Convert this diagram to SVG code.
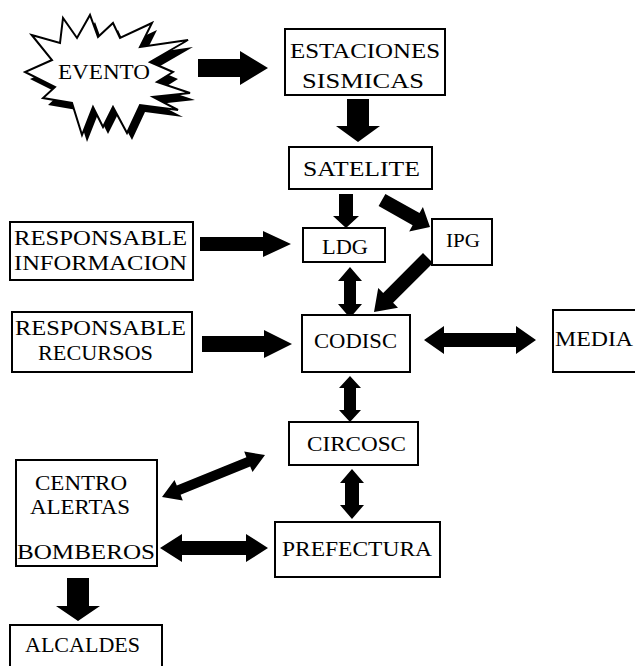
<svg xmlns="http://www.w3.org/2000/svg" width="635" height="666" viewBox="0 0 635 666">
<style>
.box{fill:#fff;stroke:#000;stroke-width:2}
.t{font-family:"Liberation Serif","Times New Roman",serif;font-size:22px;fill:#000}
.s{font-size:20px}
.arr{fill:#000;stroke:none}
</style>
<rect width="635" height="666" fill="#fff"/>
<defs>
<polygon id="star" points="31.7,35 60,43 63,18 77,38 90,15 98,37 113,23 120,38 152,23 140,47 188,40 150,62 173,72 157,82 190,93 153,97 178,110 140,105 127,133 113,107 103,127 93,107 82,135 72,103 43,98 55,87 25,72 52,60"/>
</defs>
<g id="connectors">
<polygon class="arr" points="198,59 240,59 240,51 268,68 240,85 240,77 198,77"/>
<polygon class="arr" points="347,99 369,99 369,126 380,126 358,142 336,126 347,126"/>
<polygon class="arr" points="339,194 353,194 353,216 359,216 346,228 333,216 339,216"/>
<polygon class="arr" points="378.6,206.1 412.6,225.3 409.2,231.4 430,227 422.9,207 419.5,213.1 385.4,193.9"/>
<polygon class="arr" points="200,237 263,237 263,231 291,244 263,257 263,251 200,251"/>
<polygon class="arr" points="423,253 383.2,292.9 378.2,288 374,312 398,307.8 393.1,302.8 433,263"/>
<polygon class="arr" points="350,267 362,281 356,281 356,304 362,304 350,318 338,304 344,304 344,281 338,281"/>
<polygon class="arr" points="202,336 264,336 264,330 292,344 264,358 264,352 202,352"/>
<polygon class="arr" points="424,340 444,326 444,333 516,333 516,326 536,340 516,354 516,347 444,347 444,354"/>
<polygon class="arr" points="350,376 361,388 356,388 356,410 361,410 350,422 339,410 344,410 344,388 339,388"/>
<polygon class="arr" points="352,469 364,483 359,483 359,505 364,505 352,519 340,505 345,505 345,483 340,483"/>
<polygon class="arr" points="265,455 244.2,451.6 246.4,457.2 176.8,485.6 174.5,480 162,497 182.8,500.4 180.6,494.8 250.2,466.4 252.5,472"/>
<polygon class="arr" points="160,548 182,534 182,541 246,541 246,534 268,548 246,562 246,555 182,555 182,562"/>
<polygon class="arr" points="67,578 89,578 89,606 100,606 78,621 56,606 67,606"/>
</g>
<g id="evento">
<use href="#star" transform="translate(5,7)" fill="#000"/>
<use href="#star" fill="#fff" stroke="#000" stroke-width="2" stroke-linejoin="miter"/>
<text class="t" x="58" y="79" textLength="92" lengthAdjust="spacingAndGlyphs">EVENTO</text>
</g>
<g id="estaciones">
<rect class="box" x="285" y="29" width="160" height="66"/>
<text class="t" x="290" y="58" textLength="150" lengthAdjust="spacingAndGlyphs">ESTACIONES</text>
<text class="t" x="302" y="88" textLength="122" lengthAdjust="spacingAndGlyphs">SISMICAS</text>
</g>
<g id="satelite">
<rect class="box" x="289" y="147" width="143" height="42"/>
<text class="t" x="303" y="176" textLength="117" lengthAdjust="spacingAndGlyphs">SATELITE</text>
</g>
<g id="resp-info">
<rect class="box" x="10" y="222" width="183" height="58"/>
<text class="t" x="14" y="245" textLength="173" lengthAdjust="spacingAndGlyphs">RESPONSABLE</text>
<text class="t" x="14" y="270" textLength="173" lengthAdjust="spacingAndGlyphs">INFORMACION</text>
</g>
<g id="ldg">
<rect class="box" x="303" y="228" width="82" height="34"/>
<text class="t" x="322" y="254" textLength="46" lengthAdjust="spacingAndGlyphs">LDG</text>
</g>
<g id="ipg">
<rect class="box" x="432" y="219" width="60" height="46"/>
<text class="t" x="446" y="247" style="font-size:19px" textLength="34" lengthAdjust="spacingAndGlyphs">IPG</text>
</g>
<g id="resp-recursos">
<rect class="box" x="12" y="312" width="180" height="60"/>
<text class="t" x="15" y="335" textLength="171" lengthAdjust="spacingAndGlyphs">RESPONSABLE</text>
<text class="t" x="38" y="360" textLength="115" lengthAdjust="spacingAndGlyphs">RECURSOS</text>
</g>
<g id="codisc">
<rect class="box" x="302" y="315" width="108" height="57"/>
<text class="t" x="314" y="348" textLength="83" lengthAdjust="spacingAndGlyphs">CODISC</text>
</g>
<g id="media">
<rect class="box" x="553" y="310" width="100" height="62"/>
<text class="t" x="555" y="346" textLength="78" lengthAdjust="spacingAndGlyphs">MEDIA</text>
</g>
<g id="circosc">
<rect class="box" x="289" y="422" width="129" height="43"/>
<text class="t" x="307" y="451" textLength="99" lengthAdjust="spacingAndGlyphs">CIRCOSC</text>
</g>
<g id="centro-alertas-bomberos">
<rect class="box" x="16" y="460" width="141" height="106"/>
<text class="t s" x="35" y="490" textLength="92" lengthAdjust="spacingAndGlyphs">CENTRO</text>
<text class="t s" x="30" y="514" textLength="100" lengthAdjust="spacingAndGlyphs">ALERTAS</text>
<text class="t" x="17" y="559" textLength="138" lengthAdjust="spacingAndGlyphs">BOMBEROS</text>
</g>
<g id="prefectura">
<rect class="box" x="275" y="522" width="165" height="55"/>
<text class="t" x="282" y="556" textLength="150" lengthAdjust="spacingAndGlyphs">PREFECTURA</text>
</g>
<g id="alcaldes">
<rect class="box" x="10" y="625" width="152" height="50"/>
<text class="t" x="25" y="652" textLength="115" lengthAdjust="spacingAndGlyphs">ALCALDES</text>
</g>
</svg>
